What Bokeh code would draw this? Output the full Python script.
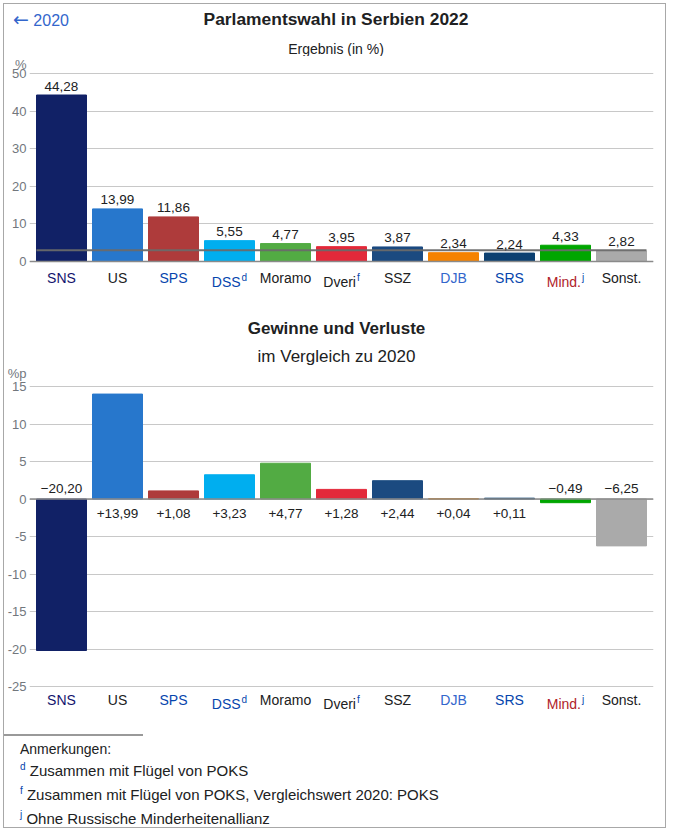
from bokeh.plotting import figure
from bokeh.models import ColumnDataSource, LabelSet, Span, FixedTicker, Div
from bokeh.layouts import column
from bokeh.core.properties import value
from bokeh.embed import file_html
from bokeh.resources import INLINE

# ---------------- data ----------------
parties = ["SNS", "US", "SPS", "DSS", "Moramo", "Dveri", "SSZ", "DJB", "SRS", "Mind.", "Sonst."]
party_notes = ["", "", "", "d", "", "f", "", "", "", "j", ""]
results_2022 = [44.28, 13.99, 11.86, 5.55, 4.77, 3.95, 3.87, 2.34, 2.24, 4.33, 2.82]
change_vs_2020 = [-20.20, 13.99, 1.08, 3.23, 4.77, 1.28, 2.44, 0.04, 0.11, -0.49, -6.25]
bar_colors = ["#112166", "#2777cc", "#ae3b3b", "#00aeef", "#52ab43", "#e3293a",
              "#1b4a80", "#f58200", "#0c4071", "#00a600", "#aaaaaa"]
name_colors = ["#14146e", "#202122", "#0645ad", "#0645ad", "#202122", "#202122",
               "#202122", "#3366cc", "#0645ad", "#b0222a", "#202122"]
threshold = 3
top_ticks = [0, 10, 20, 30, 40, 50]
bottom_ticks = [-25, -20, -15, -10, -5, 0, 5, 10, 15]
top_unit = "%"
bottom_unit = "%p"
back_arrow = "\u2190"
back_year = "2020"
title_top = "Parlamentswahl in Serbien 2022"
subtitle_top = "Ergebnis (in %)"
title_bottom = "Gewinne und Verluste"
subtitle_bottom = "im Vergleich zu 2020"
notes_heading = "Anmerkungen:"
footnote_marks = ["d", "f", "j"]
footnote_texts = ["Zusammen mit Flügel von POKS",
                  "Zusammen mit Flügel von POKS, Vergleichswert 2020: POKS",
                  "Ohne Russische Minderheitenallianz"]

FONT = "Liberation Sans"
GRID = "#c8c8c8"
TICKC = "#72777d"
TXT = "#202122"
LINK = "#0645ad"

# approx Arial advance widths (per 1000 em)
AW = {"S": 667, "N": 722, "U": 722, "P": 667, "D": 722, "M": 833, "o": 556, "r": 333,
      "a": 556, "m": 833, "v": 500, "e": 556, "i": 222, "Z": 611, "J": 500, "B": 667,
      "R": 722, "n": 556, "d": 556, ".": 278, "t": 278, "s": 500, "f": 278, "j": 222}


def tw(s, size):
    return sum(AW.get(c, 556) for c in s) / 1000.0 * size


def fmt(v):
    return f"{v:.2f}".replace(".", ",")


def fmt_signed(v):
    return ("+" if v >= 0 else "\u2212") + fmt(abs(v))


n = len(parties)
idx = list(range(n))
W = 661                      # content width inside the frame border
PPX = 56.0                   # pixels per category
BW = 50 / PPX
LEFT = 25                    # frame left inside figure
RIGHT = 12
FRAME_W = W - LEFT - RIGHT
X0 = -0.5 - 4 / PPX
XR = (X0, X0 + FRAME_W / PPX)


def px2x(fx):
    return X0 + (fx - LEFT) / PPX


def style_fig(p, ticks, unit, unit_pos):
    p.xaxis.visible = False
    p.xgrid.visible = False
    p.outline_line_color = None
    p.yaxis.ticker = FixedTicker(ticks=ticks + [unit_pos])
    over = {t: str(t) for t in ticks}
    over[unit_pos] = unit
    p.yaxis.major_label_overrides = over
    p.yaxis.axis_line_color = None
    p.yaxis.major_tick_line_color = None
    p.yaxis.minor_tick_line_color = None
    p.yaxis.major_tick_out = 0
    p.yaxis.major_tick_in = 0
    p.yaxis.minor_tick_out = 0
    p.yaxis.minor_tick_in = 0
    p.yaxis.major_label_text_font = FONT
    p.yaxis.major_label_text_font_size = "13px"
    p.yaxis.major_label_text_color = TICKC
    p.yaxis.major_label_standoff = 3
    p.ygrid.grid_line_color = GRID
    p.ygrid.ticker = FixedTicker(ticks=ticks)
    p.background_fill_color = "white"
    p.border_fill_color = "white"


def add_names(p, ymap, base_page_y):
    size = 14.0
    ssize = 10.0
    gap = 1.0
    main = dict(x=[], y=[], off=[], text=[], color=[])
    sups = dict(x=[], y=[], off=[], text=[])
    for i, (name, note) in enumerate(zip(parties, party_notes)):
        wm = tw(name, size)
        ws = tw(note, ssize) + gap if note else 0
        total = wm + ws
        main["x"].append(i)
        main["off"].append(-total / 2)
        main["y"].append(ymap(base_page_y + (4.5 if note else 0)))
        main["text"].append(name)
        main["color"].append(name_colors[i])
        if note:
            sups["x"].append(i)
            sups["off"].append(-total / 2 + wm + gap)
            sups["y"].append(ymap(base_page_y))
            sups["text"].append(note)
    p.text(x="x", y="y", text="text", x_offset="off", source=ColumnDataSource(main),
           text_align="left", text_baseline="middle", text_font=value(FONT),
           text_font_size=value(f"{size}px"), text_color="color")
    p.text(x="x", y="y", text="text", x_offset="off", source=ColumnDataSource(sups),
           text_align="left", text_baseline="middle", text_font=value(FONT),
           text_font_size=value(f"{ssize}px"), text_color=LINK)


# ---------------- header (HTML) ----------------
H0 = 52
header = Div(margin=0, width=W, height=H0, text=(
    f'<div style="position:relative;width:{W}px;height:{H0}px;overflow:hidden;'
    f"font-family:'{FONT}',Arial,sans-serif;color:{TXT};\">"
    f'<div style="position:absolute;left:9px;top:6px;font-size:16px;line-height:19px;'
    f'color:#3366cc;white-space:nowrap;">'
    f"<span style=\"font-family:'DejaVu Sans';font-size:19px;\">{back_arrow}</span> {back_year}</div>"
    f'<div style="position:absolute;left:32px;width:600px;top:5px;text-align:center;'
    f'font-size:17.4px;font-weight:bold;line-height:20px;white-space:nowrap;">{title_top}</div>'
    f'<div style="position:absolute;left:32px;width:600px;top:38px;text-align:center;'
    f'font-size:14px;line-height:14px;white-space:nowrap;">{subtitle_top}</div>'
    '</div>'))

# ---------------- top chart ----------------
TOP_PAGE = 4 + H0            # page y of the figure's top edge
H1 = 300 - TOP_PAGE
PPU1 = 3.76
ZERO1 = 261 - TOP_PAGE       # figure y of value 0


def y1(page_y):
    return (ZERO1 - (page_y - TOP_PAGE)) / PPU1


p1 = figure(width=W, height=H1, x_range=XR, y_range=(-(H1 - ZERO1) / PPU1, ZERO1 / PPU1),
            output_backend="svg", toolbar_location=None, min_border_left=LEFT,
            min_border_right=RIGHT, min_border_top=0, min_border_bottom=0)
style_fig(p1, top_ticks, top_unit, 53)
src1 = ColumnDataSource(dict(x=idx, top=results_2022, color=bar_colors,
                             text=[fmt(v) for v in results_2022]))
p1.vbar(x="x", top="top", bottom=0, width=BW, color="color", source=src1)
p1.line(x=[idx[0] - BW / 2, idx[-1] + BW / 2], y=[threshold, threshold],
        line_color="#6a6a6a", line_width=2, line_alpha=0.95)
p1.add_layout(Span(location=0, dimension="width", line_color="#8a8a8a", line_width=1.5))
p1.add_layout(LabelSet(x="x", y="top", text="text", source=src1, y_offset=9,
                       text_align="center", text_baseline="middle", text_font=value(FONT),
                       text_font_size=value("13.5px"), text_color=TXT))
add_names(p1, y1, 277)

# ---------------- bottom chart ----------------
BOT_PAGE = 300
H2 = 425
PPU2 = 7.5
ZERO2 = 498.5 - BOT_PAGE


def y2(page_y):
    return (ZERO2 - (page_y - BOT_PAGE)) / PPU2


p2 = figure(width=W, height=H2, x_range=XR, y_range=(-(H2 - ZERO2) / PPU2, ZERO2 / PPU2),
            output_backend="svg", toolbar_location=None, min_border_left=LEFT,
            min_border_right=RIGHT, min_border_top=0, min_border_bottom=0)
style_fig(p2, bottom_ticks, bottom_unit, 16.75)
src2 = ColumnDataSource(dict(x=idx, top=change_vs_2020, color=bar_colors,
                             text=[fmt_signed(v) for v in change_vs_2020],
                             yoff=[-14 if v >= 0 else 10.5 for v in change_vs_2020],
                             zero=[0] * n))
p2.vbar(x="x", top="top", bottom=0, width=BW, color="color", source=src2)
p2.add_layout(Span(location=0, dimension="width", line_color="#8a8a8a", line_width=1.5))
p2.add_layout(LabelSet(x="x", y="zero", text="text", source=src2, y_offset="yoff",
                       text_align="center", text_baseline="middle", text_font=value(FONT),
                       text_font_size=value("13.5px"), text_color=TXT))
add_names(p2, y2, 699)
cx = px2x(336 - 4)
p2.text(x=[cx], y=[y2(327.5)], text=[title_bottom], text_align="center",
        text_baseline="middle", text_font=value(FONT), text_font_size=value("17px"),
        text_font_style="bold", text_color=TXT)
p2.text(x=[cx], y=[y2(356)], text=[subtitle_bottom], text_align="center",
        text_baseline="middle", text_font=value(FONT), text_font_size=value("17px"),
        text_color=TXT)

# ---------------- notes ----------------
H3 = 102
parts = [f'<div style="position:relative;width:{W}px;height:{H3}px;overflow:hidden;'
         f"font-family:'{FONT}',Arial,sans-serif;color:{TXT};\">",
         '<div style="position:absolute;left:0;top:9px;width:139px;height:2px;background:#999;"></div>',
         f'<div style="position:absolute;left:16px;top:16px;font-size:14px;line-height:16px;'
         f'white-space:nowrap;">{notes_heading}</div>']
for k, (m, t) in enumerate(zip(footnote_marks, footnote_texts)):
    top = 37 + 24 * k
    parts.append(f'<div style="position:absolute;left:16px;top:{top}px;font-size:15px;'
                 f'line-height:18px;white-space:nowrap;">'
                 f'<span style="font-size:10px;position:relative;top:-6px;color:{LINK};">{m}</span> {t}</div>')
parts.append('</div>')
notes = Div(text="".join(parts), width=W, height=H3, margin=0)

layout = column(header, p1, p2, notes,
                styles={"border": "1px solid #a8a8a8", "margin-left": "3px", "margin-top": "3px"})

open("out.html", "w").write(file_html(layout, INLINE))
